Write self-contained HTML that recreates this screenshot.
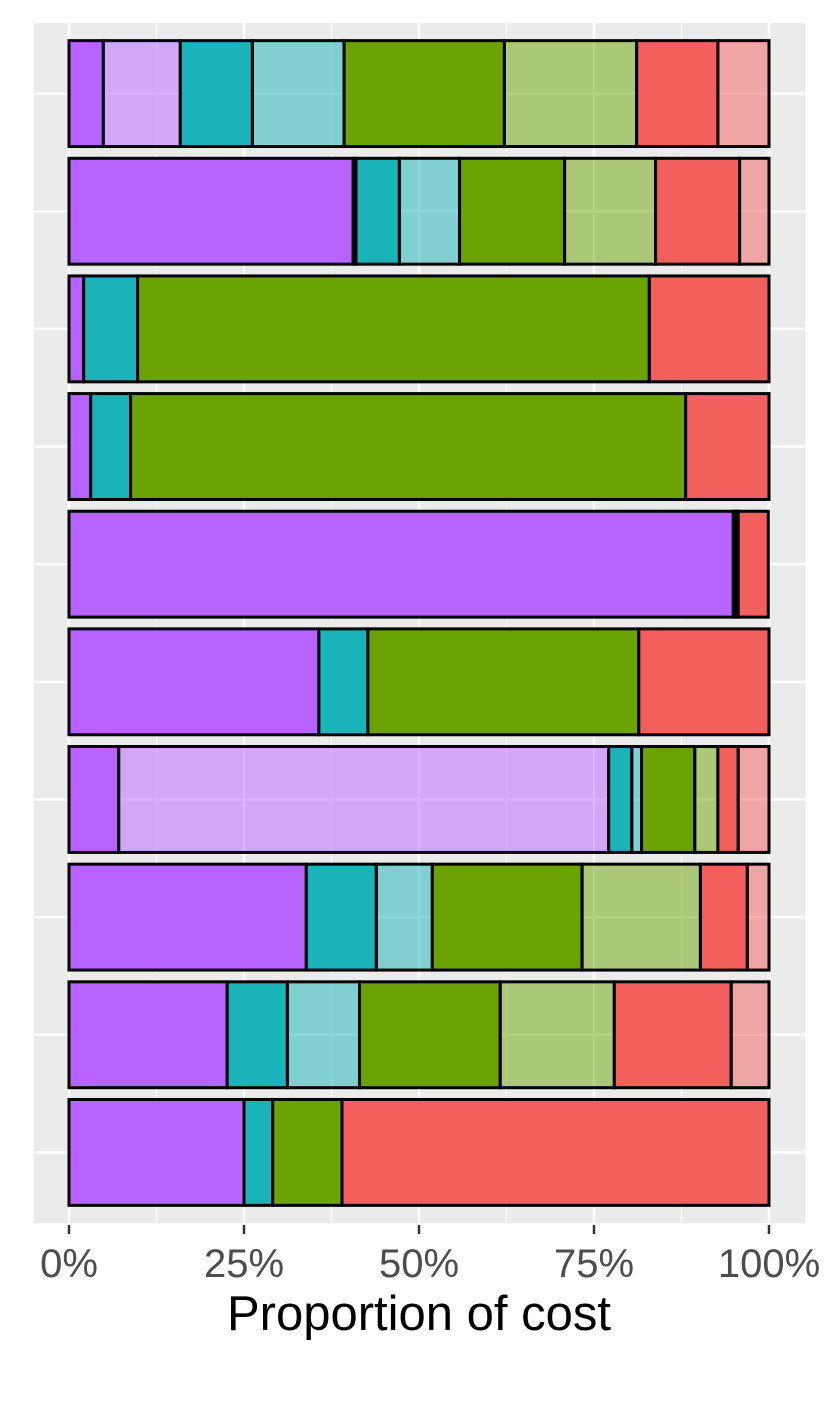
<!DOCTYPE html>
<html><head><meta charset="utf-8"><style>
html,body{margin:0;padding:0;background:#fff;}
svg{display:block;font-family:"Liberation Sans",Arial,sans-serif;}
</style></head><body>
<svg id="chart" width="826" height="1417" viewBox="0 0 826 1417">
<rect x="34" y="23" width="771" height="1200" fill="#EBEBEB"/>
<g id="grid"></g>
<g id="bars"></g>
<g id="xaxis"></g>
<text x="419" y="1330" text-anchor="middle" font-size="49" fill="#000">Proportion of cost</text>
</svg>
<script>
const categories = ["r1","r2","r3","r4","r5","r6","r7","r8","r9","r10"];
const segmentNames = ["purple","light-purple","teal","light-teal","green","light-green","red","light-red"];
const segPurple      = [4.9, 40.6, 2.1, 3.1, 94.9, 35.7, 7.1, 33.9, 22.6, 25.0];
const segLightPurple = [11.0, 0.4, 0, 0, 0, 0, 70.0, 0, 0, 0];
const segTeal        = [10.3, 6.2, 7.7, 5.7, 0.4, 7.0, 3.3, 10.0, 8.6, 4.1];
const segLightTeal   = [13.1, 8.6, 0, 0, 0, 0, 1.4, 8.0, 10.3, 0];
const segGreen       = [22.9, 15.0, 73.1, 79.3, 0.3, 38.7, 7.6, 21.4, 20.1, 9.9];
const segLightGreen  = [18.9, 13.0, 0, 0, 0, 0, 3.3, 16.9, 16.3, 0];
const segRed         = [11.6, 12.0, 17.1, 11.9, 4.3, 18.6, 2.9, 6.7, 16.7, 61.0];
const segLightRed    = [7.3, 4.2, 0, 0, 0, 0, 4.4, 3.1, 5.4, 0];
const tickValues = [0, 25, 50, 75, 100];
const tickLabels = ["0%","25%","50%","75%","100%"];

const NS="http://www.w3.org/2000/svg";
const x0=69, x1=769;
const xs=v=>x0+(x1-x0)*v/100;
const pTop=23, pBot=1223, n=categories.length;
const step=(pBot-pTop)/(n+0.2);
const yc=i=>pTop+step*(0.6+i);
const bh=step*0.9;
const fills=["#B963FF","rgba(185,99,255,0.5)","#1AB3BA","rgba(26,179,186,0.5)","#6BA305","rgba(107,163,5,0.5)","#F25F5C","rgba(242,95,92,0.5)"];
const series=[segPurple,segLightPurple,segTeal,segLightTeal,segGreen,segLightGreen,segRed,segLightRed];
function mk(t,a,p){const e=document.createElementNS(NS,t);for(const k in a)e.setAttribute(k,a[k]);p.appendChild(e);return e;}
const grid=document.getElementById('grid');
for(let v=12.5;v<100;v+=25){const l=mk('line',{x1:xs(v),x2:xs(v),y1:pTop,y2:pBot,stroke:'#fff','stroke-width':1.2},grid);

}
tickValues.forEach(v=>{const l=mk('line',{x1:xs(v),x2:xs(v),y1:pTop,y2:pBot,stroke:'#fff','stroke-width':2.5},grid);

});
categories.forEach((c,i)=>{const l=mk('line',{x1:34,x2:805,y1:yc(i),y2:yc(i),stroke:'#fff','stroke-width':2.5},grid);

});
const bars=document.getElementById('bars');
categories.forEach((c,i)=>{
  let cum=0;
  series.forEach((s,k)=>{
    const v=s[i]; const a=cum; cum+=v;
    if(v<=0) return;
    const r=mk('rect',{x:xs(a),y:yc(i)-bh/2,width:xs(cum)-xs(a),height:bh,fill:fills[k],stroke:'#000','stroke-width':3},bars);
    
    
  });
});
const xa=document.getElementById('xaxis');
tickValues.forEach((v,j)=>{
  const t=mk('line',{x1:xs(v),x2:xs(v),y1:pBot+2,y2:pBot+11,stroke:'#333','stroke-width':2.5},xa);
  
  
  const tx=mk('text',{x:xs(v),y:1277,'text-anchor':'middle','font-size':40,fill:'#4D4D4D'},xa);
  tx.textContent=tickLabels[j];
  
  
});
</script>
</body></html>
